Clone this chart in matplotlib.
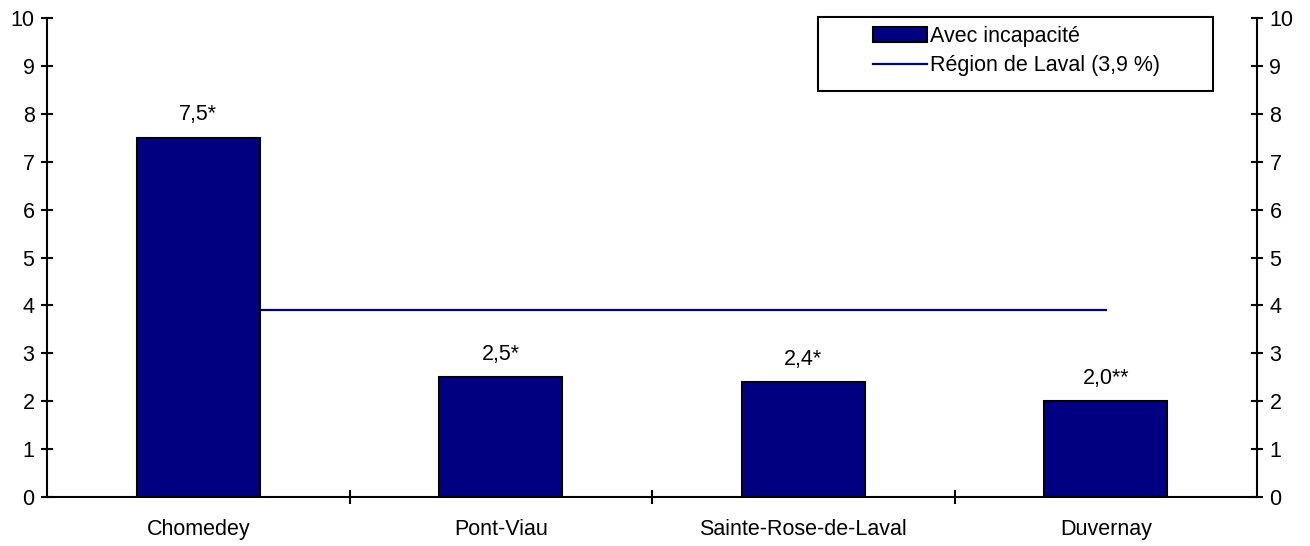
import numpy as np
import matplotlib
matplotlib.use("Agg")
import matplotlib.pyplot as plt
from matplotlib.patches import Rectangle

plt.rcParams['font.family'] = ['Liberation Sans', 'DejaVu Sans']
plt.rcParams['font.size'] = 15.5

# Data
categories = ['Chomedey', 'Pont-Viau', 'Sainte-Rose-de-Laval', 'Duvernay']
values = [7.5, 2.5, 2.4, 2.0]
value_labels = ['7,5*', '2,5*', '2,4*', '2,0**']
region_value = 3.9
bar_label = 'Avec incapacité'
line_label = 'Région de Laval (3,9 %)'

navy = '#000080'

fig = plt.figure(figsize=(13.1, 5.46), dpi=100)
ax = fig.add_axes([47 / 1310, 49 / 546, 1210 / 1310, 479 / 546])

x = np.arange(len(categories))

# reference line, behind bars
line, = ax.plot([x[0], x[-1]], [region_value, region_value], color=navy,
                lw=1.6, zorder=1, label=line_label)
bars = ax.bar(x, values, width=0.405, color=navy, edgecolor='black',
              linewidth=1.5, zorder=2, label=bar_label)

for xi, v, lab in zip(x, values, value_labels):
    ax.annotate(lab, (xi, v), xytext=(0, 9), textcoords='offset points',
                ha='center', va='bottom')

ax.set_xlim(-0.5, len(categories) - 0.5)
ax.set_ylim(0, 10)
ax.set_yticks(range(0, 11))

ax.set_xticks(x)
ax.set_xticklabels(categories)
ax.set_xticks(x[:-1] + 0.5, minor=True)
ax.tick_params(axis='x', which='major', length=0, pad=16)
ax.tick_params(axis='x', which='minor', direction='inout', length=9.5, width=1.5)
ax.tick_params(axis='y', direction='inout', length=8, width=1.5, pad=5,
               left=True, right=True, labelleft=True, labelright=True)

ax.spines['top'].set_visible(False)
for s in ['left', 'right', 'bottom']:
    ax.spines[s].set_linewidth(1.5)

# legend frame and contents
ax.add_patch(Rectangle((0.637, 0.848), 0.327, 0.154, transform=ax.transAxes,
                       fill=False, edgecolor='black', lw=1.5, clip_on=False,
                       zorder=5))
ax.legend(handles=[bars, line], loc='upper left',
          bbox_to_anchor=(0.6826, 0.984), frameon=False, borderpad=0,
          borderaxespad=0, handlelength=2.5, handletextpad=0.14,
          labelspacing=0.39)

fig.savefig('out.png', dpi=100)
